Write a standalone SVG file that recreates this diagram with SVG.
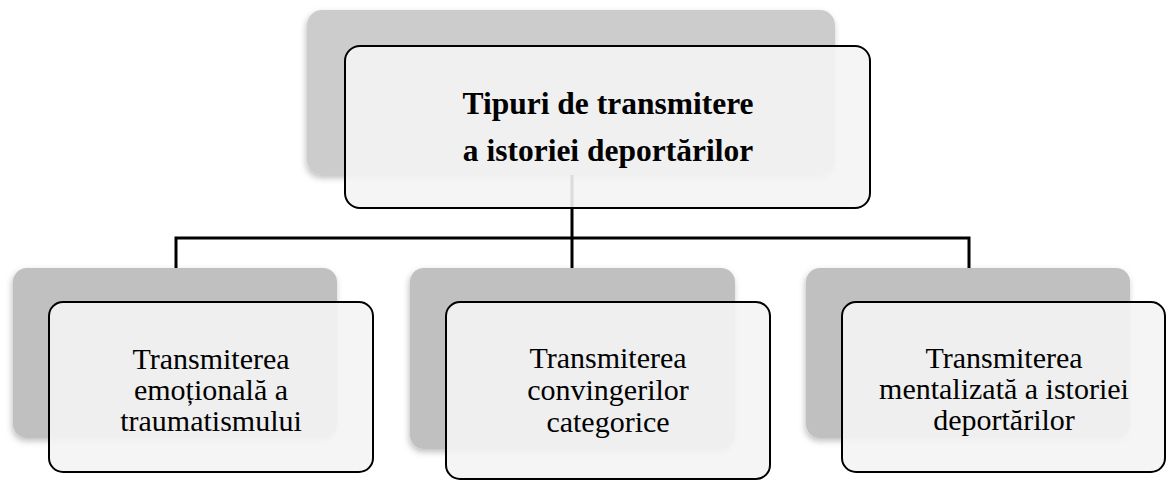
<svg xmlns="http://www.w3.org/2000/svg" width="1171" height="480" viewBox="0 0 1171 480">
<defs>
<filter id="sh" x="-10%" y="-10%" width="120%" height="130%">
<feDropShadow dx="-1" dy="3" stdDeviation="3" flood-color="#000" flood-opacity="0.25"/>
</filter>
<style>
.back{fill:#c0c0c0;filter:url(#sh)}
.backtop{fill:#cccccc;filter:url(#sh)}
.front{fill:#f4f4f4;fill-opacity:0.9;stroke:#000;stroke-width:2}
.conn{fill:none;stroke:#000;stroke-width:3}
.t{font-family:"Liberation Serif","Times New Roman",serif;font-size:30px;fill:#000;text-anchor:middle}
.tb{font-family:"Liberation Serif","Times New Roman",serif;font-size:31.5px;font-weight:bold;fill:#000;text-anchor:middle}
</style>
</defs>
<rect width="1171" height="480" fill="#fff"/>
<g id="root-back"><rect class="backtop" x="307" y="10" width="528" height="165" rx="15"/></g>
<g id="connectors">
<path class="conn" d="M572 175 V238 M176 268 V238 H969 V268 M572 238 V268"/>
</g>
<g id="root">
<rect class="front" x="345" y="46" width="525" height="162" rx="15"/>
<text class="tb" x="608" y="114">Tipuri de transmitere</text>
<text class="tb" x="608" y="161">a istoriei deportărilor</text>
</g>
<g id="node1">
<rect class="back" x="13" y="268" width="324" height="170" rx="14"/>
<rect class="front" x="49" y="302" width="324" height="170" rx="14"/>
<text class="t" x="211" y="369">Transmiterea</text>
<text class="t" x="211" y="400">emoțională a</text>
<text class="t" x="211" y="431">traumatismului</text>
</g>
<g id="node2">
<rect class="back" x="410" y="268" width="325" height="181" rx="14"/>
<rect class="front" x="446" y="302" width="324" height="177" rx="14"/>
<text class="t" x="608" y="368">Transmiterea</text>
<text class="t" x="608" y="400">convingerilor</text>
<text class="t" x="608" y="432">categorice</text>
</g>
<g id="node3">
<rect class="back" x="806" y="268" width="324" height="170" rx="14"/>
<rect class="front" x="842" y="302" width="323" height="170" rx="14"/>
<text class="t" x="1004" y="368">Transmiterea</text>
<text class="t" x="1004" y="399">mentalizată a istoriei</text>
<text class="t" x="1004" y="430">deportărilor</text>
</g>
</svg>
